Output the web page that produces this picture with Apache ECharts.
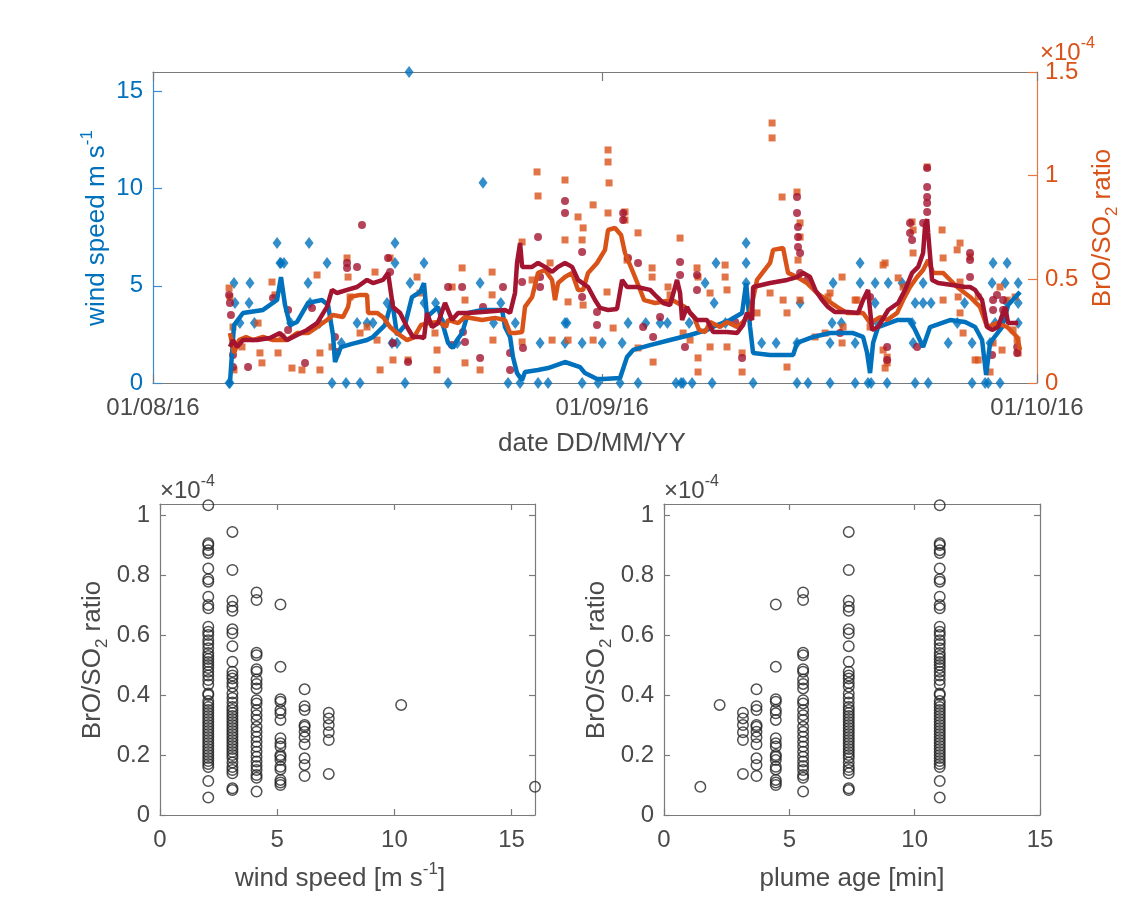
<!DOCTYPE html>
<html>
<head>
<meta charset="utf-8">
<script src="https://cdn.jsdelivr.net/npm/echarts@6/dist/echarts.min.js"></script>
<style>
  html, body { margin: 0; padding: 0; background: #fff; }
  #chart { width: 1131px; height: 913px; }
</style>
</head>
<body>
<div id="chart"></div>
<script>
// x of the top panel = days since 01/08/16
var dateTicks = [0, 31, 61];
var dateLabels = ['01/08/16', '01/09/16', '01/10/16'];

// wind speed samples [day, m/s]
var windPoints = [
  [5.25,0],[5.31,0],[5.59,5.14],[5.66,4.12],[6.0,3.09],[6.63,4.12],[6.69,5.14],[7.0,3.09],
  [8.56,7.2],[8.76,6.17],[8.83,6.17],[9.04,6.17],[9.5,3.09],[10.70,5.14],[10.77,7.2],[10.84,4.12],
  [11.5,3.09],[12.01,6.17],[12.35,0],[13.0,2.06],[13.32,0],[14.08,3.09],[14.29,0],[14.77,3.09],
  [15.18,3.09],[16.15,4.12],[16.49,2.06],[16.70,7.2],[16.70,6.17],[16.84,2.06],[17.39,0],[17.67,16.0],
  [17.74,5.14],[18.70,6.17],[18.70,4.12],[19.5,4.12],[20.0,3.09],[20.36,0],[21.0,2.06],[22.57,5.14],
  [22.77,10.3],[23.5,3.09],[24.0,4.12],[24.50,0],[25.0,3.09],[25.33,0],[26.57,0],[26.71,2.06],
  [27.26,0],[28.43,3.09],[28.43,2.06],[28.57,3.09],[29.61,2.06],[29.61,0],[30.71,0],[31.0,2.06],
  [32.23,0],[32.37,2.06],[32.78,3.09],[33.47,0],[34.0,3.09],[34.99,3.09],[35.5,3.09],[36.09,0],
  [36.44,0],[36.58,0],[37.0,3.09],[37.20,0],[38.10,5.14],[38.58,0],[38.72,4.12],[38.85,6.17],
  [39.5,3.09],[40.93,7.2],[40.93,6.17],[40.93,5.14],[41.41,0],[42.0,2.06],[43.0,2.06],[44.44,2.06],
  [44.44,0],[44.65,4.12],[45.20,0],[46.72,2.06],[46.72,0],[46.86,3.09],[46.93,5.14],[47.5,3.09],
  [48.45,2.06],[48.45,0],[48.79,6.17],[48.79,5.14],[49.34,0],[49.55,0],[49.83,5.14],[49.83,4.12],
  [50.0,3.09],[50.66,0],[50.73,5.14],[51.69,5.14],[52.38,3.09],[52.45,2.06],[52.59,4.12],[52.59,0],
  [53.14,5.14],[53.14,4.12],[53.49,0],[53.69,4.12],[54.87,2.06],[55.5,3.09],[56.0,4.12],[56.52,2.06],
  [56.52,0],[57.42,0],[57.63,0],[57.76,2.06],[57.90,5.14],[57.97,6.17],[58.11,3.09],[58.45,0],
  [58.80,5.14],[58.94,6.17],[58.94,4.12],[59.70,5.14],[59.70,4.12],[59.70,3.09]
];

// smoothed wind speed [day, m/s]
var windSmooth = [
  [5.31,0],[5.59,2.98],[6.21,3.60],[7.59,3.76],[8.56,4.27],[8.83,5.45],[9.11,4.01],[9.45,2.98],
  [9.94,3.14],[10.70,4.12],[11.66,4.27],[12.08,4.01],[12.42,2.47],[12.56,1.08],[12.97,1.85],[13.73,2.01],
  [14.77,2.21],[15.18,2.37],[16.01,2.98],[16.49,4.27],[16.84,2.47],[17.39,2.98],[17.87,4.42],[18.43,4.68],
  [18.70,5.14],[18.91,3.40],[19.67,3.91],[20.01,2.98],[20.36,2.06],[20.70,1.80],[20.98,2.21],[21.33,2.57],
  [21.74,3.60],[22.71,3.76],[24.09,3.76],[24.29,2.88],[24.64,2.37],[24.84,1.34],[25.12,0.51],[25.47,0.15],
  [25.67,0.57],[26.57,0.67],[27.26,0.77],[28.43,1.08],[29.47,0.82],[29.81,0.51],[30.64,0.21],[31.06,0.21],
  [32.23,0.26],[32.71,1.34],[33.13,1.70],[34.30,1.95],[35.68,2.21],[37.06,2.47],[38.23,2.73],[38.92,2.98],
  [39.82,3.24],[40.65,3.60],[40.93,5.14],[41.20,2.88],[41.41,1.54],[42.58,1.44],[44.17,1.44],[44.44,2.06],
  [45.55,2.37],[46.72,2.57],[48.31,2.57],[49.00,2.37],[49.28,1.54],[49.48,0.51],[49.69,2.06],[50.03,2.88],
  [51.35,3.24],[52.24,3.24],[52.59,2.73],[53.14,1.85],[53.62,2.88],[55.00,3.24],[56.04,3.14],[56.73,2.88],
  [57.21,2.21],[57.49,0.41],[57.76,2.06],[58.59,2.88],[59.01,4.01],[59.83,4.68]
];

// BrO/SO2 ratio (x1e-4), square markers [day, ratio]
var ratioSquares = [
  [5.25,0.458],[5.31,0.415],[5.52,0.270],[5.59,0.063],[6.14,0.174],[7.25,0.289],[7.38,0.145],[7.52,0.097],
  [8.21,0.487],[8.42,0.425],[8.63,0.145],[8.90,0.222],[9.59,0.072],[10.28,0.063],[11.32,0.521],[11.52,0.063],
  [11.52,0.145],[12.35,0.174],[13.39,0.603],[13.46,0.511],[13.60,0.415],[14.29,0.241],[14.77,0.270],[15.32,0.535],
  [15.46,0.207],[15.67,0.063],[16.36,0.603],[16.56,0.111],[17.60,0.111],[18.22,0.511],[18.43,0.434],[19.46,0.241],
  [19.60,0.159],[19.60,0.063],[20.64,0.463],[21.33,0.555],[21.53,0.400],[21.53,0.097],[22.57,0.063],[23.40,0.535],
  [23.40,0.425],[23.46,0.207],[25.47,0.680],[25.47,0.198],[26.50,1.018],[26.57,0.902],[26.16,0.497],[27.40,0.579],
  [27.54,0.207],[28.43,0.979],[28.43,0.690],[28.64,0.391],[28.64,0.207],[29.33,0.801],[29.61,0.690],[29.68,0.748],
  [29.68,0.376],[30.37,0.859],[30.37,0.207],[31.40,1.124],[31.40,1.066],[31.47,0.965],[31.40,0.820],[31.33,0.439],
  [32.57,0.825],[32.57,0.786],[33.47,0.724],[32.71,0.593],[34.44,0.555],[34.44,0.511],[36.37,0.699],[35.54,0.463],
  [35.68,0.425],[34.51,0.101],[33.47,0.169],[31.75,0.265],[39.48,0.569],[39.48,0.511],[39.61,0.449],[37.54,0.555],
  [37.61,0.511],[38.44,0.434],[38.44,0.174],[37.61,0.121],[37.61,0.053],[39.61,0.174],[40.65,0.145],[40.65,0.053],
  [42.58,0.434],[43.48,0.400],[43.75,0.338],[43.75,0.077],[36.58,0.241],[37.06,0.207],[42.72,1.254],[42.72,1.182],
  [43.41,0.897],[44.44,0.921],[44.65,0.772],[44.65,0.704],[44.51,0.593],[44.65,0.400],[41.68,0.338],[47.55,0.511],
  [48.58,0.400],[50.52,0.579],[52.45,0.738],[52.45,0.627],[53.42,1.042],[54.45,0.738],[55.69,0.675],[55.49,0.642],
  [55.69,0.487],[56.38,0.608],[54.52,0.400],[55.69,0.338],[55.90,0.241],[56.73,0.111],[57.76,0.053],[57.97,0.193],
  [58.45,0.463],[58.94,0.400],[59.35,0.256],[59.63,0.207],[46.72,0.434],[47.62,0.270],[50.38,0.159],[50.66,0.125],
  [50.66,0.097],[54.52,0.603],[52.38,0.777],[50.38,0.569],[51.42,0.507],[51.76,0.463],[46.58,0.415],[48.45,0.400],
  [55.56,0.415],[56.94,0.415],[59.49,0.415],[59.70,0.145],[56.94,0.111],[50.52,0.072],[47.55,0.193],[45.69,0.222],
  [49.48,0.270],[58.59,0.159],[46.38,0.241]
];

// BrO/SO2 ratio (x1e-4), round markers [day, ratio]
var ratioDots = [
  [5.25,0.425],[5.31,0.386],[5.38,0.328],[5.52,0.135],[5.52,0.077],[6.56,0.077],[8.28,0.410],[9.32,0.352],
  [9.32,0.256],[10.49,0.097],[10.97,0.362],[12.56,0.222],[12.70,0.150],[13.39,0.579],[13.39,0.555],[14.08,0.560],
  [14.42,0.762],[16.22,0.603],[16.36,0.535],[16.56,0.193],[17.60,0.101],[20.36,0.463],[21.33,0.463],[21.39,0.246],
  [21.53,0.198],[20.63,0.183],[22.57,0.121],[22.77,0.367],[24.15,0.463],[24.64,0.145],[24.64,0.063],[25.53,0.169],
  [25.47,0.487],[26.57,0.704],[26.71,0.511],[26.71,0.463],[28.43,0.878],[28.43,0.820],[29.61,0.632],[29.61,0.415],
  [30.64,0.342],[30.64,0.280],[32.44,0.820],[32.44,0.786],[33.47,0.579],[32.78,0.603],[33.82,0.270],[34.51,0.222],
  [34.99,0.318],[36.37,0.584],[36.37,0.521],[37.54,0.521],[37.54,0.449],[36.71,0.174],[40.17,0.294],[40.65,0.121],
  [44.44,0.897],[44.44,0.820],[44.51,0.753],[44.51,0.704],[44.51,0.656],[44.65,0.627],[44.65,0.531],[45.13,0.497],
  [47.41,0.241],[49.48,0.415],[50.66,0.174],[50.66,0.111],[52.24,0.772],[52.24,0.724],[52.38,0.690],[52.73,0.174],
  [53.42,1.037],[53.42,0.945],[53.42,0.897],[53.42,0.868],[53.42,0.825],[53.14,0.772],[56.38,0.627],[56.38,0.593],
  [56.38,0.511],[58.24,0.425],[57.97,0.400],[57.97,0.352],[58.66,0.400],[58.66,0.352],[59.63,0.174],[59.63,0.145],
  [57.90,0.135]
];

// running means of the two ratio series
var ratioSmoothOrange = [
  [5.31,0.241],[5.59,0.145],[5.94,0.207],[6.42,0.222],[6.90,0.207],[7.59,0.222],[8.28,0.207],[9.25,0.207],
  [9.94,0.241],[10.70,0.241],[11.32,0.270],[12.01,0.304],[12.42,0.328],[13.11,0.318],[13.46,0.367],[13.59,0.415],
  [14.29,0.425],[14.77,0.425],[14.84,0.338],[15.46,0.338],[15.87,0.318],[16.36,0.270],[16.84,0.241],[17.53,0.207],
  [18.0,0.220],[18.5,0.280],[19.05,0.289],[19.74,0.294],[20.22,0.270],[20.36,0.304],[21.05,0.289],[21.53,0.318],
  [22.71,0.304],[23.60,0.314],[24.29,0.304],[24.64,0.241],[24.98,0.241],[25.47,0.246],[25.67,0.367],[26.16,0.415],
  [26.57,0.531],[27.05,0.545],[27.54,0.497],[27.74,0.400],[27.95,0.482],[28.43,0.511],[28.92,0.531],[29.33,0.449],
  [29.68,0.449],[30.02,0.531],[30.64,0.579],[31.19,0.642],[31.40,0.738],[31.88,0.748],[32.30,0.714],[32.57,0.627],
  [33.06,0.545],[33.54,0.463],[33.89,0.400],[34.65,0.386],[35.82,0.400],[36.71,0.367],[37.33,0.318],[37.68,0.256],
  [38.10,0.246],[38.44,0.294],[39.13,0.270],[39.61,0.294],[40.31,0.270],[40.72,0.294],[41.20,0.338],[41.68,0.497],
  [42.58,0.579],[42.79,0.642],[43.48,0.651],[43.82,0.531],[44.44,0.511],[45.13,0.482],[45.82,0.434],[46.51,0.400],
  [47.20,0.367],[47.89,0.338],[49.00,0.338],[49.48,0.289],[50.17,0.318],[50.66,0.304],[51.35,0.338],[51.76,0.400],
  [52.24,0.463],[52.73,0.511],[53.14,0.545],[53.49,0.593],[53.83,0.531],[54.52,0.531],[55.49,0.463],[56.38,0.415],
  [57.07,0.367],[57.56,0.270],[58.24,0.289],[58.94,0.270],[59.63,0.222],[59.83,0.159]
];

var ratioSmoothRed = [
  [5.31,0.174],[5.52,0.207],[5.80,0.174],[6.21,0.207],[7.18,0.207],[8.07,0.217],[8.76,0.241],[9.25,0.207],
  [9.94,0.232],[10.63,0.256],[11.32,0.289],[12.01,0.367],[12.35,0.449],[12.70,0.434],[13.39,0.449],[14.08,0.463],
  [14.77,0.497],[15.18,0.482],[15.87,0.497],[16.22,0.531],[16.56,0.367],[17.05,0.338],[17.53,0.270],[17.94,0.222],
  [18.43,0.222],[18.70,0.217],[18.91,0.338],[19.25,0.270],[19.67,0.289],[20.15,0.386],[20.63,0.304],[21.05,0.338],
  [21.74,0.338],[22.71,0.343],[23.60,0.347],[24.29,0.352],[24.64,0.338],[24.98,0.434],[25.12,0.579],[25.33,0.675],
  [25.47,0.560],[26.16,0.560],[26.57,0.579],[27.05,0.560],[27.54,0.536],[27.95,0.560],[28.43,0.579],[28.92,0.560],
  [29.33,0.497],[30.02,0.463],[30.50,0.400],[30.85,0.362],[31.40,0.352],[32.02,0.357],[32.37,0.497],[32.71,0.463],
  [33.40,0.463],[34.30,0.449],[34.78,0.415],[35.20,0.386],[35.68,0.376],[36.16,0.497],[36.37,0.434],[36.51,0.304],
  [36.85,0.367],[37.06,0.338],[37.54,0.304],[38.23,0.304],[38.65,0.246],[39.61,0.246],[40.31,0.241],[40.72,0.280],
  [40.99,0.338],[41.34,0.304],[41.41,0.463],[42.58,0.482],[43.76,0.497],[44.44,0.511],[44.86,0.531],[45.34,0.511],
  [45.70,0.449],[46.17,0.400],[46.58,0.367],[47.07,0.342],[47.96,0.342],[48.66,0.338],[49.00,0.400],[49.34,0.449],
  [49.62,0.256],[50.03,0.270],[50.73,0.352],[51.42,0.386],[51.90,0.449],[52.38,0.531],[52.80,0.560],[53.14,0.627],
  [53.28,0.762],[53.42,0.790],[53.49,0.724],[53.76,0.497],[54.18,0.482],[55.14,0.473],[56.04,0.463],[56.38,0.463],
  [56.73,0.449],[57.21,0.400],[57.56,0.270],[57.90,0.256],[58.31,0.270],[58.80,0.367],[59.01,0.289],[59.70,0.289]
];

// lower panels: one column of ratios per wind speed class
var windLevels = [2.06, 3.09, 4.12, 5.14, 6.17, 7.2, 10.29, 16.0];
var plumeAgeLevels = [11.0, 7.37, 5.55, 4.46, 3.69, 3.15, 2.22, 1.45];
var ratioGroups = [
  [1.033,0.906,0.900,0.883,0.874,0.822,0.786,0.778,0.728,0.700,0.689,0.628,0.611,0.600,0.583,0.570,0.556,0.540,
   0.530,0.520,0.510,0.500,0.490,0.478,0.465,0.450,0.435,0.405,0.400,0.380,0.370,0.360,0.350,0.340,0.330,0.320,
   0.310,0.300,0.290,0.280,0.270,0.260,0.250,0.240,0.230,0.220,0.210,0.200,0.190,0.180,0.170,0.160,0.113,0.058],
  [0.944,0.817,0.714,0.694,0.681,0.619,0.606,0.563,0.511,0.478,0.465,0.455,0.440,0.428,0.405,0.390,0.375,0.360,
   0.350,0.340,0.330,0.320,0.310,0.300,0.290,0.280,0.270,0.260,0.250,0.240,0.230,0.220,0.210,0.200,0.190,0.175,
   0.160,0.150,0.139,0.089,0.083],
  [0.742,0.717,0.541,0.533,0.486,0.478,0.452,0.437,0.422,0.383,0.372,0.350,0.333,0.317,0.294,0.278,0.261,0.244,
   0.228,0.211,0.194,0.178,0.163,0.150,0.133,0.124,0.078],
  [0.702,0.494,0.386,0.378,0.350,0.339,0.317,0.256,0.239,0.228,0.200,0.194,0.183,0.161,0.152,0.117,0.108,0.100],
  [0.419,0.363,0.350,0.300,0.294,0.278,0.259,0.236,0.189,0.167,0.130],
  [0.341,0.322,0.300,0.276,0.250,0.137],
  [0.367],
  [0.094]
];

var windTicks = [0, 5, 10, 15];
var ratioTicksTop = [0, 0.5, 1, 1.5];
var ratioTicksLow = [0, 0.2, 0.4, 0.6, 0.8, 1];
var windTicksLow = [0, 5, 10, 15];
var ageTicks = [0, 5, 10, 15];

var FONT = '"Liberation Sans", Arial, sans-serif';
var GRAY = '#7a7a7a', TXT = '#4a4a4a';
var BLUE = '#0072BD', ORANGE = '#D95319', DARKRED = '#A2142F';

function columns(xs) {
  var out = [];
  ratioGroups.forEach(function (g, i) {
    g.forEach(function (v) { out.push([xs[i], v]); });
  });
  return out;
}

function axis(o) {
  return {
    type: 'value', gridIndex: o.grid, position: o.pos, min: o.min, max: o.max,
    axisLine: { show: true, onZero: false, lineStyle: { color: o.line || GRAY, width: 1.2 } },
    axisTick: { show: true, inside: true, length: o.tick || 6, customValues: o.ticks,
                lineStyle: { color: o.line || GRAY, width: 1.2 } },
    axisLabel: { show: !!o.label, customValues: o.ticks, margin: o.margin || 10,
                 color: o.text || TXT, fontSize: 24, fontFamily: FONT, formatter: o.fmt },
    splitLine: { show: false }
  };
}

function label(x, y, rot, text, color, size) {
  return {
    type: 'text', x: x, y: y, rotation: rot, silent: true,
    style: {
      text: text, x: 0, y: 0, fill: color,
      align: 'center', verticalAlign: 'middle', textAlign: 'center', textVerticalAlign: 'middle',
      rich: {
        n: { fontSize: size, fontFamily: FONT, fill: color, lineHeight: size + 10 },
        sup: { fontSize: Math.round(size * 0.65), fontFamily: FONT, fill: color, verticalAlign: 'top', lineHeight: 18 },
        sub: { fontSize: Math.round(size * 0.65), fontFamily: FONT, fill: color, verticalAlign: 'bottom', lineHeight: 18 }
      }
    }
  };
}

function exponent(x, y, color) {
  var l = label(x, y, 0, '{n|\u00d710}{sup|-4}', color, 24);
  l.style.align = 'left';
  l.style.textAlign = 'left';
  return l;
}

var dateFmt = function (v) { return dateLabels[dateTicks.indexOf(v)]; };

var chartDom = document.getElementById('chart');
var myChart = echarts.init(chartDom, null, { renderer: 'canvas' });

var option = {
  animation: false,
  backgroundColor: '#fff',
  grid: [
    { left: 153, top: 72, width: 884, height: 311 },
    { left: 160, top: 504, width: 375, height: 311 },
    { left: 664, top: 504, width: 376, height: 311 }
  ],
  xAxis: [
    axis({ grid: 0, pos: 'bottom', min: 0, max: 61, ticks: dateTicks, label: true, fmt: dateFmt, tick: 9, margin: 13 }),
    axis({ grid: 0, pos: 'top', min: 0, max: 61, ticks: dateTicks, tick: 9 }),
    axis({ grid: 1, pos: 'bottom', min: 0, max: 16, ticks: windTicksLow, label: true, margin: 13 }),
    axis({ grid: 1, pos: 'top', min: 0, max: 16, ticks: windTicksLow }),
    axis({ grid: 2, pos: 'bottom', min: 0, max: 15, ticks: ageTicks, label: true, margin: 13 }),
    axis({ grid: 2, pos: 'top', min: 0, max: 15, ticks: ageTicks })
  ],
  yAxis: [
    axis({ grid: 0, pos: 'left', min: 0, max: 16, ticks: windTicks, label: true, tick: 9,
           line: '#3a8ad0', text: BLUE }),
    axis({ grid: 0, pos: 'right', min: 0, max: 1.5, ticks: ratioTicksTop, label: true, tick: 9,
           line: '#e07a45', text: ORANGE, margin: 8 }),
    axis({ grid: 1, pos: 'left', min: 0, max: 1.037, ticks: ratioTicksLow, label: true }),
    axis({ grid: 1, pos: 'right', min: 0, max: 1.037, ticks: ratioTicksLow }),
    axis({ grid: 2, pos: 'left', min: 0, max: 1.037, ticks: ratioTicksLow, label: true }),
    axis({ grid: 2, pos: 'right', min: 0, max: 1.037, ticks: ratioTicksLow })
  ],
  series: [
    { name: 'wind speed', type: 'scatter', xAxisIndex: 0, yAxisIndex: 0, data: windPoints,
      symbol: 'diamond', symbolSize: [9, 12], itemStyle: { color: BLUE }, clip: false },
    { name: 'wind speed mean', type: 'line', xAxisIndex: 0, yAxisIndex: 0, data: windSmooth,
      symbol: 'none', lineStyle: { color: BLUE, width: 4.5 } },
    { name: 'BrO/SO2 a', type: 'scatter', xAxisIndex: 0, yAxisIndex: 1, data: ratioSquares,
      symbol: 'rect', symbolSize: 7, itemStyle: { color: ORANGE } },
    { name: 'BrO/SO2 b', type: 'scatter', xAxisIndex: 0, yAxisIndex: 1, data: ratioDots,
      symbol: 'circle', symbolSize: 8, itemStyle: { color: DARKRED } },
    { name: 'BrO/SO2 a mean', type: 'line', xAxisIndex: 0, yAxisIndex: 1, data: ratioSmoothOrange,
      symbol: 'none', lineStyle: { color: ORANGE, width: 4.5 } },
    { name: 'BrO/SO2 b mean', type: 'line', xAxisIndex: 0, yAxisIndex: 1, data: ratioSmoothRed,
      symbol: 'none', lineStyle: { color: DARKRED, width: 4.5 } },
    { name: 'vs wind', type: 'scatter', xAxisIndex: 2, yAxisIndex: 2, data: columns(windLevels),
      symbol: 'circle', symbolSize: 10.5, clip: false,
      itemStyle: { color: 'rgba(0,0,0,0)', borderColor: '#262626', borderWidth: 1.5 } },
    { name: 'vs plume age', type: 'scatter', xAxisIndex: 4, yAxisIndex: 4, data: columns(plumeAgeLevels),
      symbol: 'circle', symbolSize: 10.5, clip: false,
      itemStyle: { color: 'rgba(0,0,0,0)', borderColor: '#262626', borderWidth: 1.5 } }
  ],
  graphic: [
    label(97, 228, Math.PI / 2, '{n|wind speed m s}{sup|-1}', BLUE, 26),
    label(1103, 228, Math.PI / 2, '{n|BrO/SO}{sub|2}{n| ratio}', ORANGE, 26),
    label(592, 444, 0, '{n|date DD/MM/YY}', TXT, 26),
    exponent(1040, 53, ORANGE),
    label(93, 660, Math.PI / 2, '{n|BrO/SO}{sub|2}{n| ratio}', TXT, 26),
    label(597, 660, Math.PI / 2, '{n|BrO/SO}{sub|2}{n| ratio}', TXT, 26),
    label(340, 879, 0, '{n|wind speed [m s}{sup|-1}{n|]}', TXT, 26),
    label(852, 879, 0, '{n|plume age [min]}', TXT, 26),
    exponent(160, 491, TXT),
    exponent(664, 491, TXT)
  ]
};

option && myChart.setOption(option);
</script>
</body>
</html>
